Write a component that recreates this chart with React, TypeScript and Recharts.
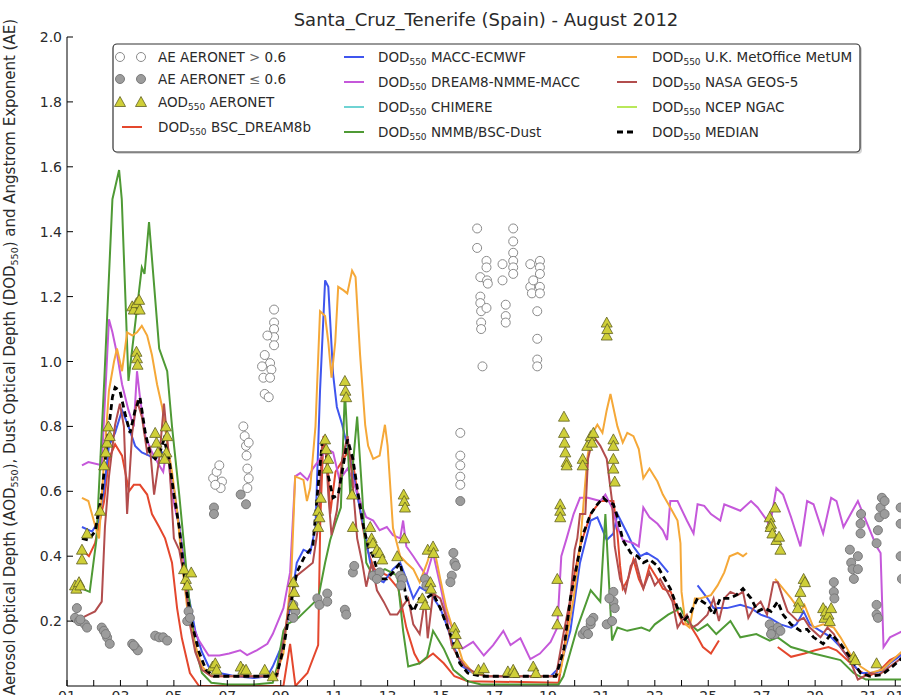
import React from 'react';
import { ComposedChart, Line, Scatter, XAxis, YAxis } from 'recharts';

type Pt = [number, number | null];

// x axis: day of August 2012 (32 = 01 September)
const dayTicks = [1, 2, 3, 4, 5, 6, 7, 8, 9, 10, 11, 12, 13, 14, 15, 16, 17, 18, 19, 20, 21, 22, 23, 24, 25, 26, 27, 28, 29, 30, 31, 32];
const dayLabels = ['01', '', '03', '', '05', '', '07', '', '09', '', '11', '', '13', '', '15', '', '17', '', '19', '', '21', '', '23', '', '25', '', '27', '', '29', '', '31', '01'];
const yTicks = [0.2, 0.4, 0.6, 0.8, 1.0, 1.2, 1.4, 1.6, 1.8, 2.0];

// AERONET observations
const aeHigh: Pt[] = [
  [6.47, 0.64], [6.6, 0.66], [6.7, 0.68], [6.8, 0.63], [6.75, 0.61], [6.55, 0.62],
  [7.6, 0.8], [7.65, 0.77], [7.7, 0.74], [7.72, 0.71], [7.75, 0.67], [7.8, 0.64], [7.75, 0.61], [7.8, 0.75],
  [8.75, 1.16], [8.75, 1.12], [8.75, 1.1], [8.75, 1.075], [8.5, 1.08], [8.75, 1.05], [8.4, 1.02], [8.6, 0.995],
  [8.3, 0.985], [8.65, 0.975], [8.35, 0.95], [8.6, 0.95], [8.4, 0.9], [8.55, 0.89],
  [15.72, 0.78], [15.72, 0.71], [15.72, 0.68], [15.72, 0.645], [15.72, 0.62],
  [16.35, 1.41], [16.35, 1.35], [16.47, 1.26], [16.7, 1.31], [16.7, 1.29], [16.72, 1.25], [16.75, 1.24],
  [16.47, 1.2], [16.47, 1.18], [16.5, 1.155], [16.7, 1.165], [16.5, 1.12], [16.5, 1.1], [16.55, 0.985],
  [17.3, 1.3], [17.3, 1.25], [17.42, 1.175], [17.42, 1.14], [17.42, 1.12],
  [17.7, 1.41], [17.7, 1.37], [17.7, 1.335], [17.7, 1.31], [17.7, 1.29], [17.7, 1.27],
  [18.34, 1.3], [18.34, 1.23], [18.4, 1.21], [18.45, 1.25], [18.7, 1.31], [18.7, 1.29], [18.7, 1.27],
  [18.7, 1.23], [18.7, 1.21], [18.6, 1.155], [18.6, 1.07], [18.6, 1.006], [18.6, 0.985],
];

const aeLow: Pt[] = [
  [1.37, 0.24], [1.3, 0.21], [1.45, 0.2], [1.67, 0.19], [1.75, 0.18], [1.5, 0.205],
  [2.3, 0.18], [2.38, 0.17], [2.5, 0.15], [2.6, 0.13], [2.45, 0.16],
  [3.44, 0.13], [3.55, 0.12], [3.65, 0.11], [3.5, 0.125],
  [4.3, 0.155], [4.45, 0.15], [4.6, 0.15], [4.75, 0.14],
  [5.5, 0.2], [5.55, 0.23], [5.6, 0.21],
  [6.5, 0.55], [6.5, 0.53], [7.5, 0.59], [7.7, 0.56],
  [9.47, 0.25], [9.55, 0.23], [9.47, 0.21],
  [10.37, 0.27], [10.45, 0.25], [10.74, 0.285], [10.74, 0.26],
  [11.4, 0.235], [11.45, 0.22], [11.7, 0.35], [11.75, 0.37],
  [12.46, 0.34], [12.7, 0.35], [12.6, 0.33],
  [13.47, 0.34], [13.55, 0.33], [13.5, 0.31], [14.4, 0.33], [14.45, 0.31],
  [15.46, 0.41], [15.5, 0.38], [15.55, 0.37], [15.4, 0.34], [15.35, 0.32], [15.72, 0.57],
  [20.3, 0.16], [20.4, 0.17], [20.5, 0.16], [20.6, 0.19], [20.7, 0.21], [20.6, 0.2],
  [21.2, 0.19], [21.45, 0.29], [21.45, 0.26], [21.5, 0.24], [21.4, 0.2], [21.3, 0.27],
  [27.3, 0.19], [27.4, 0.17], [27.5, 0.16], [27.6, 0.18], [27.7, 0.17], [27.35, 0.16],
  [29.7, 0.32], [29.7, 0.29], [29.72, 0.27],
  [30.3, 0.42], [30.35, 0.38], [30.4, 0.36], [30.45, 0.33], [30.6, 0.4], [30.6, 0.36],
  [30.7, 0.47], [30.7, 0.5], [30.72, 0.53],
  [31.3, 0.44], [31.35, 0.48], [31.4, 0.52], [31.45, 0.55], [31.5, 0.58], [31.6, 0.57], [31.6, 0.53],
  [31.3, 0.25], [31.3, 0.22], [31.35, 0.21],
  [32.2, 0.55], [32.2, 0.5], [32.2, 0.4], [32.25, 0.33],
];

const aodAeronet: Pt[] = [
  [1.3, 0.31], [1.35, 0.3], [1.45, 0.32], [1.5, 0.31], [1.56, 0.39], [1.56, 0.42], [1.75, 0.47],
  [2.24, 0.54], [2.39, 0.68], [2.45, 0.72], [2.5, 0.75], [2.55, 0.8], [2.6, 0.77],
  [3.44, 1.17], [3.5, 1.16], [3.6, 1.18], [3.7, 1.19], [3.72, 1.16], [3.6, 1.03], [3.62, 1.01], [3.64, 0.99],
  [4.3, 0.78], [4.35, 0.75], [4.4, 0.72], [4.7, 0.8], [4.75, 0.77], [4.72, 0.72], [4.65, 0.7],
  [5.38, 0.36], [5.45, 0.33], [5.5, 0.31], [5.65, 0.35],
  [6.45, 0.06], [6.55, 0.07], [6.6, 0.05], [7.5, 0.06], [7.6, 0.05], [7.7, 0.05], [8.4, 0.05], [8.7, 0.03],
  [9.47, 0.32], [9.5, 0.29], [9.47, 0.25],
  [10.4, 0.54], [10.45, 0.52], [10.4, 0.49], [10.5, 0.58], [10.66, 0.76], [10.7, 0.73], [10.78, 0.7], [10.75, 0.67],
  [11.4, 0.94], [11.42, 0.91], [11.45, 0.89], [11.67, 0.59], [11.7, 0.49],
  [12.35, 0.49], [12.4, 0.455], [12.45, 0.44], [12.6, 0.42], [12.7, 0.41], [12.8, 0.39],
  [13.36, 0.4], [13.6, 0.59], [13.62, 0.57], [13.65, 0.55], [13.62, 0.455],
  [14.3, 0.27], [14.4, 0.25], [14.5, 0.42], [14.6, 0.32], [14.62, 0.3], [14.7, 0.43], [14.72, 0.41],
  [15.5, 0.18], [15.55, 0.16], [15.6, 0.13],
  [16.4, 0.05], [16.6, 0.055], [17.5, 0.045], [17.7, 0.05], [17.75, 0.04], [18.45, 0.06], [18.55, 0.04],
  [19.35, 0.33], [19.35, 0.23], [19.35, 0.19], [19.46, 0.56], [19.46, 0.54], [19.46, 0.52],
  [19.6, 0.83], [19.6, 0.78], [19.62, 0.75], [19.65, 0.72], [19.7, 0.69], [19.7, 0.68],
  [20.3, 0.7], [20.3, 0.68], [20.47, 0.74], [20.6, 0.77], [20.7, 0.78], [20.65, 0.75],
  [21.2, 1.12], [21.2, 1.08], [21.22, 1.1],
  [21.45, 0.76], [21.45, 0.74], [21.45, 0.7], [21.45, 0.67], [21.5, 0.63],
  [27.3, 0.52], [27.35, 0.5], [27.33, 0.49], [27.4, 0.47], [27.5, 0.55], [27.55, 0.45], [27.7, 0.42], [27.65, 0.46],
  [28.45, 0.29], [28.4, 0.26], [28.35, 0.24], [28.57, 0.33], [28.62, 0.32],
  [29.3, 0.24], [29.35, 0.21], [29.4, 0.23], [29.5, 0.22], [29.55, 0.2], [29.6, 0.24],
  [30.44, 0.09], [30.5, 0.08], [31.3, 0.07],
];

// dust models (DOD 550)
const bscDream8b: Pt[] = [
  [1.56, 0.42], [1.82, 0.4], [2.05, 0.44], [2.39, 0.57], [2.57, 0.7], [2.8, 0.745], [3.06, 0.71], [3.32, 0.6],
  [3.5, 0.62], [3.73, 0.62], [4.0, 0.59], [4.18, 0.53], [4.45, 0.49], [4.67, 0.455], [4.93, 0.38], [5.12, 0.24],
  [5.3, 0.147], [5.6, 0.04], [5.94, 0.0], [9.1, 0.0], [9.35, 0.13], [9.55, 0.0], [10.0, 0.04], [10.4, 0.126],
  [10.48, 0.51], [10.6, 0.77], [10.75, 0.7], [10.85, 0.53], [11.05, 0.66], [11.5, 0.72], [11.7, 0.69],
  [11.97, 0.54], [12.2, 0.43], [12.5, 0.36], [13.0, 0.34], [13.4, 0.3], [13.7, 0.18], [14.0, 0.1], [14.2, 0.07],
  [14.7, 0.1], [15.1, 0.07], [15.5, 0.03], [16.0, 0.015], [19.4, 0.01], [19.7, 0.17], [19.96, 0.33],
  [20.2, 0.43], [20.6, 0.53], [20.96, 0.57], [21.45, 0.57], [21.6, 0.47], [21.7, 0.37], [21.8, 0.3],
  [22.0, 0.33], [22.2, 0.39], [22.4, 0.33], [22.57, 0.3], [22.8, 0.37], [23.1, 0.33], [23.3, 0.3], [23.6, 0.29],
  [23.85, 0.23], [24.07, 0.19], [24.3, 0.19], [24.6, 0.15], [24.8, 0.12], [25.1, 0.1], [25.4, 0.14],
  [25.5, null], [27.5, null],
  [27.6, 0.12], [28.1, 0.09], [28.6, 0.1], [29.0, 0.11], [29.5, 0.12], [29.8, 0.11], [30.2, 0.08],
  [30.6, 0.05], [31.0, 0.03], [31.45, 0.05], [31.8, 0.08], [32.3, 0.1],
];

const maccEcmwf: Pt[] = [
  [1.56, 0.49], [1.94, 0.476], [2.2, 0.51], [2.39, 0.61], [2.57, 0.74], [2.8, 0.78], [3.06, 0.85], [3.3, 0.8],
  [3.55, 0.74], [3.8, 0.72], [4.07, 0.71], [4.3, 0.7], [4.56, 0.72], [4.8, 0.7], [5.04, 0.59], [5.3, 0.43],
  [5.57, 0.27], [5.8, 0.17], [6.05, 0.105], [6.3, 0.06], [6.7, 0.04], [7.3, 0.03], [8.0, 0.025], [8.5, 0.03],
  [8.7, 0.06], [9.1, 0.136], [9.35, 0.24], [9.6, 0.38], [9.85, 0.42], [10.1, 0.41], [10.3, 0.49], [10.47, 0.91],
  [10.66, 1.25], [10.78, 1.23], [10.96, 0.96], [11.1, 0.86], [11.3, 0.805], [11.6, 0.7], [11.86, 0.59],
  [12.1, 0.49], [12.35, 0.38], [12.6, 0.33], [12.85, 0.32], [13.2, 0.36], [13.47, 0.38], [13.7, 0.33],
  [13.96, 0.27], [14.2, 0.305], [14.6, 0.285], [14.97, 0.24], [15.2, 0.19], [15.46, 0.125], [15.8, 0.06],
  [16.2, 0.04], [16.7, 0.03], [19.1, 0.03], [19.46, 0.06], [19.84, 0.17], [20.2, 0.38], [20.6, 0.51],
  [20.85, 0.52], [21.0, 0.49], [21.2, 0.45], [21.45, 0.47], [21.6, 0.53], [21.97, 0.47], [22.2, 0.43],
  [22.46, 0.4], [22.7, 0.41], [23.1, 0.39], [23.5, 0.35],
  [23.6, null], [24.5, null],
  [24.6, 0.31], [24.97, 0.27], [25.2, 0.24], [25.7, 0.24], [26.2, 0.25], [26.6, 0.24], [26.96, 0.22],
  [27.3, 0.21], [27.7, 0.19], [28.1, 0.18], [28.3, 0.19], [28.57, 0.23], [28.8, 0.19], [29.2, 0.17],
  [29.6, 0.15], [29.95, 0.12], [30.3, 0.08], [30.7, 0.04], [31.07, 0.04], [31.45, 0.045], [31.8, 0.07], [32.3, 0.1],
];

const dream8Nmme: Pt[] = [
  [1.56, 0.68], [1.8, 0.69], [2.3, 0.68], [2.57, 1.13], [2.7, 1.09], [2.88, 1.02], [3.06, 0.93], [3.3, 0.85],
  [3.5, 0.8], [3.62, 0.97], [3.73, 0.89], [3.93, 0.77], [4.18, 0.72], [4.45, 0.68], [4.6, 0.66], [4.75, 0.74],
  [4.93, 0.59], [5.2, 0.49], [5.42, 0.33], [5.68, 0.19], [5.94, 0.14], [6.3, 0.094], [6.7, 0.094], [7.07, 0.1],
  [7.48, 0.11], [7.74, 0.095], [8.1, 0.11], [8.5, 0.13], [8.7, 0.16], [9.1, 0.24], [9.35, 0.35], [9.54, 0.646],
  [9.73, 0.656], [10.0, 0.635], [10.2, 0.67], [10.47, 0.7], [10.73, 0.73], [10.96, 0.72], [11.2, 0.635],
  [11.5, 0.67], [11.7, 0.635], [11.97, 0.57], [12.2, 0.52], [12.46, 0.51], [12.7, 0.48], [12.97, 0.49],
  [13.2, 0.465], [13.47, 0.455], [13.58, 0.51], [13.7, 0.43], [13.96, 0.4], [14.2, 0.37], [14.45, 0.34],
  [14.7, 0.41], [14.97, 0.31], [15.2, 0.22], [15.46, 0.17], [15.8, 0.115], [16.2, 0.136], [16.6, 0.094],
  [16.95, 0.126], [17.33, 0.17], [17.6, 0.126], [17.97, 0.147], [18.34, 0.083], [18.7, 0.1], [19.1, 0.136],
  [19.35, 0.18], [19.5, 0.4], [19.7, 0.455], [19.96, 0.53], [20.2, 0.58], [20.5, 0.58], [20.96, 0.57],
  [21.15, 0.59], [21.4, 0.55], [21.6, 0.49], [21.8, 0.45], [22.2, 0.44], [22.4, 0.43], [22.57, 0.55],
  [22.8, 0.52], [23.1, 0.5], [23.3, 0.48], [23.46, 0.45], [23.58, 0.57], [23.85, 0.57], [24.2, 0.51],
  [24.45, 0.47], [24.6, 0.56], [24.85, 0.555], [25.1, 0.53], [25.45, 0.51], [25.6, 0.56], [25.9, 0.55],
  [26.2, 0.54], [26.6, 0.57], [26.85, 0.55], [27.2, 0.51], [27.3, 0.49], [27.55, 0.61], [27.8, 0.59],
  [28.1, 0.52], [28.45, 0.43], [28.7, 0.57], [28.94, 0.56], [29.3, 0.47], [29.6, 0.58], [29.8, 0.57],
  [30.06, 0.49], [30.6, 0.57], [30.8, 0.53], [31.3, 0.43], [31.45, 0.41], [31.56, 0.12], [31.8, 0.15], [32.3, 0.17],
];

// CHIMERE and NCEP NGAC have no values for this station and month
const chimere: Pt[] = [];
const ncepNgac: Pt[] = [];

const nmmbBsc: Pt[] = [
  [1.56, 0.3], [1.85, 0.29], [2.1, 0.45], [2.4, 0.95], [2.7, 1.5], [2.95, 1.59], [3.05, 1.5], [3.3, 0.94],
  [3.6, 1.15], [3.8, 1.29], [3.9, 1.27], [4.07, 1.43], [4.45, 1.04], [4.75, 0.97], [4.93, 0.8], [5.2, 0.59],
  [5.57, 0.27], [5.8, 0.12], [6.05, 0.04], [6.4, 0.01], [7.0, 0.005], [8.0, 0.005], [8.7, 0.01], [8.87, 0.06],
  [9.1, 0.17], [9.24, 0.19], [9.65, 0.21], [10.03, 0.24], [10.4, 0.27], [10.66, 0.38], [10.85, 0.45],
  [11.04, 0.5], [11.25, 0.55], [11.4, 0.91], [11.6, 0.59], [11.86, 0.83], [12.05, 0.59], [12.2, 0.38],
  [12.45, 0.34], [12.9, 0.36], [13.36, 0.34], [13.58, 0.17], [13.77, 0.06], [14.2, 0.07], [14.48, 0.09],
  [14.7, 0.17], [15.1, 0.115], [15.46, 0.05], [15.98, 0.015], [16.5, 0.005], [19.4, 0.005], [19.58, 0.03],
  [20.1, 0.18], [20.6, 0.295], [20.96, 0.26], [21.15, 0.53], [21.4, 0.14], [21.6, 0.18], [21.97, 0.17],
  [22.5, 0.18], [22.8, 0.17], [23.0, 0.19], [23.5, 0.22], [23.96, 0.24], [24.2, 0.2], [24.6, 0.17],
  [24.97, 0.19], [25.3, 0.16], [25.83, 0.2], [26.2, 0.15], [26.8, 0.16], [27.3, 0.14], [27.6, 0.15],
  [28.1, 0.12], [28.94, 0.1], [29.95, 0.08], [30.44, 0.04], [30.9, 0.02], [32.3, 0.02],
];

const metUm: Pt[] = [
  [1.56, 0.58], [1.8, 0.57], [2.0, 0.51], [2.2, 0.455], [2.39, 0.7], [2.57, 0.91], [2.76, 1.0], [2.87, 1.04],
  [3.06, 0.97], [3.25, 1.09], [3.45, 1.08], [3.62, 1.09], [3.8, 1.11], [4.0, 1.08], [4.18, 1.02], [4.37, 0.93],
  [4.56, 0.86], [4.75, 0.75], [4.93, 0.66], [5.12, 0.54], [5.3, 0.38], [5.5, 0.24], [5.75, 0.14], [6.05, 0.06],
  [6.4, 0.03], [8.8, 0.03], [9.1, 0.1], [9.4, 0.35], [9.54, 0.646], [9.85, 0.635], [9.98, 0.57], [10.1, 0.61],
  [10.3, 0.8], [10.47, 1.155], [10.66, 1.14], [10.78, 1.06], [10.9, 0.95], [11.04, 1.06], [11.15, 1.23],
  [11.34, 1.22], [11.49, 1.21], [11.67, 1.28], [11.8, 1.26], [11.97, 1.02], [12.16, 0.805], [12.27, 0.74],
  [12.46, 0.7], [12.7, 0.71], [12.9, 0.805], [13.0, 0.74], [13.2, 0.487], [13.47, 0.4], [13.7, 0.38],
  [13.96, 0.36], [14.2, 0.32], [14.48, 0.38], [14.7, 0.44], [14.97, 0.33], [15.2, 0.24], [15.46, 0.17],
  [15.8, 0.08], [16.2, 0.04], [16.7, 0.03], [19.3, 0.03], [19.46, 0.04], [19.7, 0.147], [19.96, 0.27],
  [20.2, 0.43], [20.47, 0.7], [20.6, 0.77], [20.85, 0.805], [21.04, 0.78], [21.2, 0.85], [21.34, 0.9],
  [21.6, 0.8], [21.8, 0.75], [21.97, 0.78], [22.2, 0.77], [22.4, 0.73], [22.57, 0.64], [22.8, 0.67],
  [23.1, 0.63], [23.3, 0.59], [23.58, 0.55], [23.85, 0.51], [23.96, 0.44], [24.0, 0.29], [24.15, 0.19],
  [24.3, 0.18], [24.5, 0.27], [24.7, 0.27], [25.1, 0.28], [25.35, 0.31], [25.6, 0.35], [25.8, 0.4],
  [26.1, 0.41], [26.3, 0.4], [26.45, 0.41],
  [26.5, null], [27.4, null],
  [27.5, 0.33], [27.8, 0.3], [28.1, 0.27], [28.45, 0.23], [28.6, 0.25], [28.94, 0.18], [29.3, 0.19],
  [29.7, 0.18], [29.95, 0.15], [30.3, 0.1], [30.7, 0.06], [31.07, 0.04], [31.5, 0.05], [31.9, 0.08], [32.3, 0.11],
];

const geos5: Pt[] = [
  [1.56, 0.21], [1.8, 0.22], [2.05, 0.23], [2.3, 0.26], [2.42, 0.49], [2.57, 0.645], [2.8, 0.805], [2.98, 0.87],
  [3.13, 0.8], [3.25, 0.53], [3.44, 0.78], [3.62, 0.88], [3.8, 0.83], [4.0, 0.72], [4.1, 0.74], [4.26, 0.59],
  [4.45, 0.7], [4.63, 0.87], [4.82, 0.7], [5.0, 0.455], [5.2, 0.42], [5.42, 0.32], [5.6, 0.19], [5.8, 0.105],
  [6.05, 0.05], [6.4, 0.03], [8.87, 0.03], [9.1, 0.136], [9.35, 0.27], [9.6, 0.34], [9.9, 0.36], [10.2, 0.38],
  [10.4, 0.49], [10.55, 0.75], [10.66, 0.77], [10.78, 0.59], [10.9, 0.465], [11.1, 0.54], [11.3, 0.7],
  [11.5, 0.77], [11.67, 0.646], [11.86, 0.455], [12.05, 0.38], [12.2, 0.306], [12.4, 0.38], [12.6, 0.295],
  [12.85, 0.26], [13.1, 0.22], [13.36, 0.22], [13.6, 0.25], [13.77, 0.27], [13.96, 0.19], [14.2, 0.16],
  [14.4, 0.27], [14.5, 0.147], [14.7, 0.285], [14.97, 0.27], [15.2, 0.21], [15.4, 0.126], [15.6, 0.094],
  [15.9, 0.06], [16.3, 0.04], [16.7, 0.03], [19.3, 0.03], [19.6, 0.17], [19.84, 0.27], [20.0, 0.42],
  [20.1, 0.455], [20.2, 0.53], [20.4, 0.53], [20.5, 0.7], [20.7, 0.77], [20.96, 0.74], [21.2, 0.7],
  [21.4, 0.57], [21.5, 0.43], [21.7, 0.33], [21.9, 0.29], [22.1, 0.37], [22.27, 0.39], [22.46, 0.33],
  [22.57, 0.3], [22.8, 0.35], [23.0, 0.31], [23.2, 0.33], [23.47, 0.29], [23.66, 0.26], [23.85, 0.18],
  [24.0, 0.2], [24.2, 0.22], [24.4, 0.18], [24.6, 0.19], [24.97, 0.22], [25.2, 0.27], [25.4, 0.2],
  [25.6, 0.27], [25.83, 0.29], [26.1, 0.28], [26.3, 0.29], [26.5, 0.21], [26.7, 0.24], [26.96, 0.26],
  [27.2, 0.22], [27.44, 0.32], [27.6, 0.32], [27.8, 0.27], [27.97, 0.23], [28.1, 0.22], [28.35, 0.2],
  [28.57, 0.21], [28.8, 0.18], [29.2, 0.15], [29.46, 0.18], [29.7, 0.16], [29.95, 0.12], [30.3, 0.08],
  [30.6, 0.02], [31.07, 0.04], [31.4, 0.035], [31.8, 0.06], [32.3, 0.09],
];

const median: Pt[] = [
  [1.56, 0.455], [1.8, 0.45], [2.05, 0.476], [2.3, 0.59], [2.5, 0.75], [2.7, 0.89], [2.8, 0.92], [2.98, 0.91],
  [3.17, 0.84], [3.36, 0.78], [3.55, 0.85], [3.73, 0.89], [3.93, 0.78], [4.1, 0.72], [4.3, 0.7], [4.48, 0.72],
  [4.63, 0.76], [4.82, 0.7], [5.0, 0.59], [5.2, 0.49], [5.42, 0.32], [5.68, 0.19], [5.94, 0.105], [6.2, 0.05],
  [6.5, 0.03], [8.8, 0.03], [8.87, 0.04], [9.1, 0.115], [9.35, 0.24], [9.6, 0.35], [9.9, 0.4], [10.2, 0.43],
  [10.37, 0.59], [10.55, 0.75], [10.66, 0.77], [10.78, 0.646], [10.96, 0.58], [11.15, 0.59], [11.34, 0.68],
  [11.5, 0.76], [11.7, 0.7], [11.9, 0.59], [12.1, 0.49], [12.27, 0.43], [12.46, 0.4], [12.7, 0.33],
  [12.97, 0.33], [13.2, 0.35], [13.47, 0.38], [13.7, 0.27], [13.96, 0.23], [14.2, 0.27], [14.45, 0.27],
  [14.7, 0.285], [14.97, 0.24], [15.2, 0.19], [15.46, 0.136], [15.7, 0.07], [16.0, 0.04], [16.5, 0.03],
  [19.3, 0.03], [19.6, 0.115], [19.84, 0.27], [20.1, 0.38], [20.3, 0.465], [20.6, 0.53], [20.85, 0.56],
  [21.07, 0.58], [21.2, 0.57], [21.45, 0.56], [21.64, 0.51], [21.8, 0.45], [22.1, 0.41], [22.35, 0.4],
  [22.57, 0.38], [22.8, 0.39], [23.1, 0.37], [23.3, 0.34], [23.58, 0.3], [23.85, 0.24], [24.07, 0.2],
  [24.3, 0.22], [24.6, 0.27], [24.97, 0.25], [25.2, 0.22], [25.45, 0.27], [25.8, 0.27], [26.05, 0.28],
  [26.3, 0.3], [26.6, 0.27], [26.85, 0.23], [27.1, 0.24], [27.35, 0.23], [27.6, 0.26], [27.8, 0.22],
  [28.1, 0.19], [28.45, 0.17], [28.7, 0.175], [28.94, 0.15], [29.3, 0.13], [29.6, 0.16], [29.95, 0.13],
  [30.3, 0.09], [30.7, 0.04], [31.07, 0.03], [31.5, 0.035], [31.9, 0.06], [32.3, 0.09],
];

const rows = (pts: Pt[]) => pts.map(([x, y]) => ({ x, y }));

const models = [
  { key: 'bsc', pts: bscDream8b, color: '#e4472d', dash: undefined, width: 2 },
  { key: 'macc', pts: maccEcmwf, color: '#3f55ee', dash: undefined, width: 2 },
  { key: 'nmme', pts: dream8Nmme, color: '#c558da', dash: undefined, width: 2 },
  { key: 'chimere', pts: chimere, color: '#6fd3d3', dash: undefined, width: 2 },
  { key: 'nmmb', pts: nmmbBsc, color: '#4f9a35', dash: undefined, width: 2 },
  { key: 'metum', pts: metUm, color: '#f5a838', dash: undefined, width: 2 },
  { key: 'geos', pts: geos5, color: '#b24d4d', dash: undefined, width: 2 },
  { key: 'ngac', pts: ncepNgac, color: '#b9e85a', dash: undefined, width: 2 },
  { key: 'median', pts: median, color: '#000000', dash: '6 4', width: 2.8 },
];

const FONT = '"DejaVu Sans", Verdana, sans-serif';
const TEXT = '#2a2a2a';
const LEG = 13.5;

const BottomTick = (props: any) => {
  const { x, y, payload } = props;
  const axisY = y - 4;
  const label = dayLabels[dayTicks.indexOf(payload.value)];
  return (
    <g>
      <line x1={x} y1={axisY} x2={x} y2={axisY - 6} stroke="#000" strokeWidth={1} />
      {label ? (
        <text x={x} y={axisY + 15} textAnchor="middle" fontSize={14} fontFamily={FONT} fill={TEXT}>
          {label}
        </text>
      ) : null}
    </g>
  );
};

const TopTick = (props: any) => {
  const { x, y } = props;
  return <line x1={x} y1={y} x2={x} y2={y + 5} stroke="#000" strokeWidth={1} />;
};

const LeftTick = (props: any) => {
  const { x, y, payload } = props;
  const axisX = x + 5;
  return (
    <g>
      <line x1={axisX} y1={y} x2={axisX + 6} y2={y} stroke="#000" strokeWidth={1} />
      <text x={x} y={y + 5} textAnchor="end" fontSize={14} fontFamily={FONT} fill={TEXT}>
        {Number(payload.value).toFixed(1)}
      </text>
    </g>
  );
};

const whiteDot = (p: any) => <circle cx={p.cx} cy={p.cy} r={4.5} fill="#ffffff" stroke="#8a8a8a" strokeWidth={1} />;
const greyDot = (p: any) => <circle cx={p.cx} cy={p.cy} r={4.5} fill="#9c9c9c" stroke="#7a7a7a" strokeWidth={1} />;
const triangle = (p: any) => (
  <polygon
    points={`${p.cx},${p.cy - 5.5} ${p.cx - 5.5},${p.cy + 4.5} ${p.cx + 5.5},${p.cy + 4.5}`}
    fill="#cfcf38"
    stroke="#5f5f22"
    strokeWidth={0.8}
  />
);

const Dod = ({ x, y, rest }: { x: number; y: number; rest: string }) => (
  <text x={x} y={y} fontSize={LEG} fontFamily={FONT} fill={TEXT}>
    DOD<tspan fontSize={9} dy={3}>550</tspan>
    <tspan dy={-3}>{rest}</tspan>
  </text>
);

const Legend = () => {
  const c1 = [57, 79, 102, 127];
  const c2 = [57, 82, 107, 132];
  const seg = (x: number, y: number, color: string, dash?: string, w = 2) => (
    <line x1={x} y1={y} x2={x + 20} y2={y} stroke={color} strokeWidth={w} strokeDasharray={dash} />
  );
  return (
    <g>
      <rect x={115} y={46} width={747} height={108} rx={4} fill="#888" opacity={0.35} />
      <rect x={113} y={44} width={747} height={108} rx={4} fill="#fff" stroke="#333" strokeWidth={1.2} />
      {whiteDot({ cx: 120, cy: c1[0] })}
      {whiteDot({ cx: 141, cy: c1[0] })}
      <text x={158} y={c1[0] + 5} fontSize={LEG} fontFamily={FONT} fill={TEXT}>AE AERONET <tspan fill="#666">&gt;</tspan> 0.6</text>
      {greyDot({ cx: 120, cy: c1[1] })}
      {greyDot({ cx: 141, cy: c1[1] })}
      <text x={158} y={c1[1] + 5} fontSize={LEG} fontFamily={FONT} fill={TEXT}>AE AERONET <tspan fill="#666">≤</tspan> 0.6</text>
      {triangle({ cx: 120, cy: c1[2] })}
      {triangle({ cx: 141, cy: c1[2] })}
      <text x={158} y={c1[2] + 5} fontSize={LEG} fontFamily={FONT} fill={TEXT}>
        AOD<tspan fontSize={9} dy={3}>550</tspan><tspan dy={-3}> AERONET</tspan>
      </text>
      {seg(122, c1[3], '#e4472d')}
      <Dod x={158} y={c1[3] + 5} rest=" BSC_DREAM8b" />

      {seg(344, c2[0], '#3f55ee')}
      <Dod x={378} y={c2[0] + 5} rest=" MACC-ECMWF" />
      {seg(344, c2[1], '#c558da')}
      <Dod x={378} y={c2[1] + 5} rest=" DREAM8-NMME-MACC" />
      {seg(344, c2[2], '#6fd3d3')}
      <Dod x={378} y={c2[2] + 5} rest=" CHIMERE" />
      {seg(344, c2[3], '#4f9a35')}
      <Dod x={378} y={c2[3] + 5} rest=" NMMB/BSC-Dust" />

      {seg(617, c2[0], '#f5a838')}
      <Dod x={652} y={c2[0] + 5} rest=" U.K. MetOffice MetUM" />
      {seg(617, c2[1], '#b24d4d')}
      <Dod x={652} y={c2[1] + 5} rest=" NASA GEOS-5" />
      {seg(617, c2[2], '#b9e85a')}
      <Dod x={652} y={c2[2] + 5} rest=" NCEP NGAC" />
      {seg(617, c2[3], '#000', '6 4', 2.8)}
      <Dod x={652} y={c2[3] + 5} rest=" MEDIAN" />
    </g>
  );
};

export default function App() {
  return (
    <div style={{ position: 'absolute', left: 0, top: 0, width: 901, height: 695, overflow: 'hidden', background: '#fff' }}>
      <ComposedChart width={930} height={720} margin={{ top: 37, right: 8, bottom: 0, left: 0 }}>
        <XAxis
          dataKey="x"
          type="number"
          domain={[1, 33]}
          allowDataOverflow
          ticks={dayTicks}
          interval={0}
          height={34}
          tickSize={0}
          tickMargin={4}
          tickLine={false}
          axisLine={{ stroke: '#000', strokeWidth: 1 }}
          tick={<BottomTick />}
        />
        <XAxis
          xAxisId="top"
          orientation="top"
          type="number"
          domain={[1, 33]}
          allowDataOverflow
          ticks={dayTicks}
          interval={0}
          height={0}
          tickSize={0}
          tickMargin={0}
          tickLine={false}
          axisLine={{ stroke: '#000', strokeWidth: 1 }}
          tick={<TopTick />}
        />
        <YAxis
          dataKey="y"
          type="number"
          domain={[0, 2]}
          allowDataOverflow
          ticks={yTicks}
          interval={0}
          width={67}
          tickSize={0}
          tickMargin={5}
          tickLine={false}
          axisLine={{ stroke: '#000', strokeWidth: 1 }}
          tick={<LeftTick />}
        />
        <Scatter name="AE AERONET > 0.6" data={rows(aeHigh)} dataKey="y" shape={whiteDot} isAnimationActive={false} />
        <Scatter name="AE AERONET <= 0.6" data={rows(aeLow)} dataKey="y" shape={greyDot} isAnimationActive={false} />
        <Scatter name="AOD550 AERONET" data={rows(aodAeronet)} dataKey="y" shape={triangle} isAnimationActive={false} />
        {models.map((m) => (
          <Line
            key={m.key}
            data={rows(m.pts)}
            dataKey="y"
            type="linear"
            stroke={m.color}
            strokeWidth={m.width}
            strokeDasharray={m.dash}
            dot={false}
            activeDot={false}
            isAnimationActive={false}
          />
        ))}
      </ComposedChart>
      <svg width={901} height={695} style={{ position: 'absolute', left: 0, top: 0, pointerEvents: 'none' }}>
        <text x={486} y={26} textAnchor="middle" fontSize={18} fontFamily={FONT} fill={TEXT}>
          Santa_Cruz_Tenerife (Spain) - August 2012
        </text>
        <text transform="translate(15, 357) rotate(-90)" textAnchor="middle" fontSize={15} fontFamily={FONT} fill={TEXT}>
          Aerosol Optical Depth (AOD<tspan fontSize={9.5} dy={3}>550</tspan>
          <tspan dy={-3}>), Dust Optical Depth (DOD</tspan>
          <tspan fontSize={9.5} dy={3}>550</tspan>
          <tspan dy={-3}>) and Angstrom Exponent (AE)</tspan>
        </text>
        <Legend />
      </svg>
    </div>
  );
}
